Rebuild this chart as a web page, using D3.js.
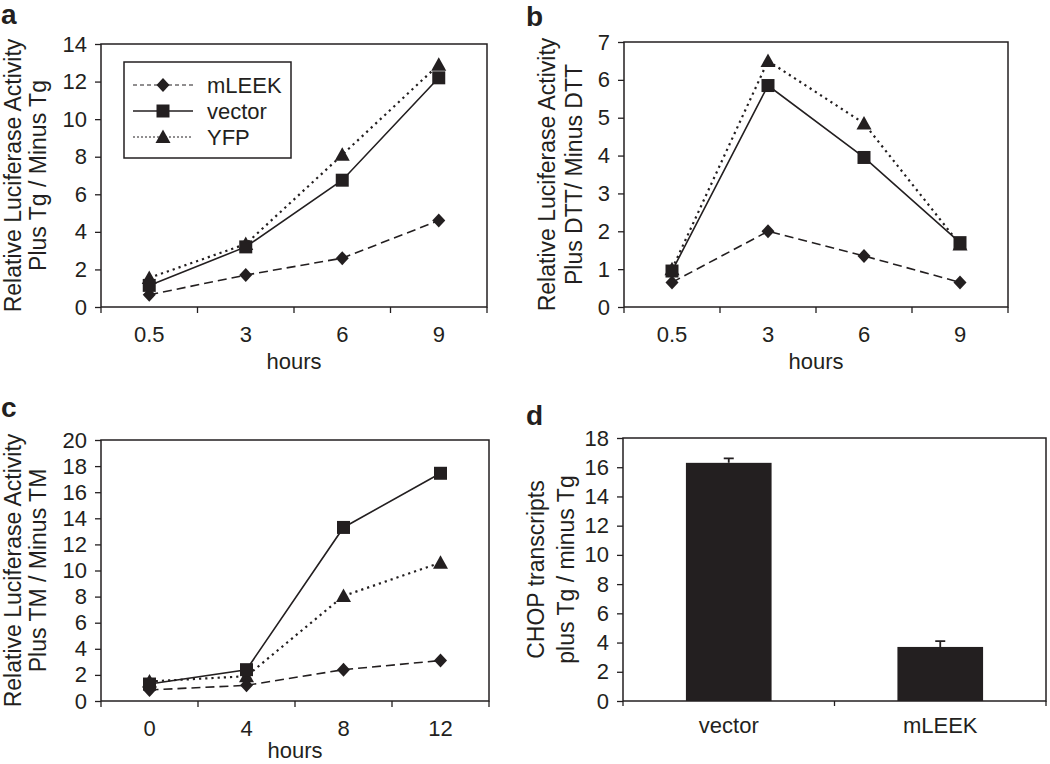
<!DOCTYPE html>
<html>
<head>
<meta charset="utf-8">
<script src="https://cdn.jsdelivr.net/npm/d3@7/dist/d3.min.js"></script>
<style>
  body { margin: 0; background: #fff; }
  svg { display: block; }
  text { font-family: "Liberation Sans", Arial, Helvetica, sans-serif; fill: #231f20; }
</style>
</head>
<body>
<svg id="fig" width="1050" height="764"></svg>
<script>
;(function () {

  'use strict';

  // ---- data ----
  var hoursA = ['0.5', '3', '6', '9'];
  var mleekA = [0.65, 1.7, 2.6, 4.6];
  var vectorA = [1.15, 3.2, 6.75, 12.2];
  var yfpA = [1.55, 3.35, 8.1, 12.9];

  var hoursB = ['0.5', '3', '6', '9'];
  var mleekB = [0.65, 2.0, 1.35, 0.65];
  var vectorB = [0.95, 5.85, 3.95, 1.7];
  var yfpB = [1.0, 6.5, 4.85, 1.65];

  var hoursC = ['0', '4', '8', '12'];
  var mleekC = [0.85, 1.2, 2.4, 3.1];
  var vectorC = [1.3, 2.4, 13.3, 17.45];
  var yfpC = [1.5, 1.9, 8.05, 10.6];

  var groupsD = ['vector', 'mLEEK'];
  var chopD = [16.3, 3.7];
  var chopErrD = [0.3, 0.4];

  var legendKeys = ['mLEEK', 'vector', 'YFP'];

  var INK = '#231f20';
  var TICK_FS = 22;
  var svg = d3.select('#fig');

  // line styles per series
  var style = {
    mLEEK: { dash: '9,5', width: 1.6, shape: 'diamond', legendDash: '4,3' },
    vector: { dash: null, width: 1.6, shape: 'square', legendDash: null },
    YFP: { dash: '2.2,4', width: 2.2, shape: 'triangle', legendDash: '2,2' }
  };

  var marker = function (shape) {
    if (shape === 'square') return 'M-6.5,-6.5H6.5V6.5H-6.5Z';
    if (shape === 'diamond') return 'M0,-7L6.5,0L0,7L-6.5,0Z';
    return 'M0,-7.5L7.5,6L-7.5,6Z';
  };

  var styleAxis = function (g, size) {
    g.select('.domain').remove();
    g.selectAll('line').attr('stroke', INK).attr('stroke-width', 1.3);
    g.selectAll('text').attr('font-size', size).attr('font-family', null).style('fill', INK);
  };

  var letter = function (t, x, y) {
    svg.append('text').attr('x', x).attr('y', y)
      .attr('font-size', 28).attr('font-weight', 'bold').text(t);
  };

  var yTitle = function (lines, xs, cy) {
    lines.forEach(function (l, i) {
      svg.append('text')
        .attr('transform', 'translate(' + xs[i] + ',' + cy + ') rotate(-90)')
        .attr('text-anchor', 'middle')
        .attr('font-size', 23)
        .text(l);
    });
  };

  var linePanel = function (p) {
    var g = svg.append('g');
    var x = d3.scaleBand().domain(p.cats).range([p.x0, p.x1]);
    var y = d3.scaleLinear().domain([0, p.yMax]).range([p.y1, p.y0]);
    var cx = function (i) { return x(p.cats[i]) + x.bandwidth() / 2; };

    g.append('rect')
      .attr('x', p.x0).attr('y', p.y0)
      .attr('width', p.x1 - p.x0).attr('height', p.y1 - p.y0)
      .attr('fill', 'none').attr('stroke', INK).attr('stroke-width', 1.5);

    g.append('g')
      .attr('transform', 'translate(' + p.x0 + ',0)')
      .call(d3.axisLeft(y)
        .tickValues(d3.range(0, p.yMax + 0.001, p.yStep))
        .tickFormat(d3.format('d'))
        .tickSize(6).tickPadding(8))
      .call(styleAxis, TICK_FS);

    g.append('g')
      .attr('transform', 'translate(0,' + p.y1 + ')')
      .call(d3.axisBottom(x).tickSize(0).tickPadding(19))
      .call(styleAxis, TICK_FS);

    // category boundary ticks
    g.selectAll('.bt')
      .data(p.cats.map(function (c) { return x(c); }).concat([x.range()[1]]))
      .enter().append('line')
      .attr('x1', function (d) { return d; }).attr('x2', function (d) { return d; })
      .attr('y1', p.y1).attr('y2', p.y1 + 6)
      .attr('stroke', INK).attr('stroke-width', 1.3);

    g.append('text')
      .attr('x', (p.x0 + p.x1) / 2).attr('y', p.y1 + p.hoursDy)
      .attr('text-anchor', 'middle').attr('font-size', 22)
      .text('hours');

    var line = d3.line()
      .x(function (d, i) { return cx(i); })
      .y(function (d) { return y(d); });

    // draw order: YFP under, vector on top
    var order = [p.series[2], p.series[0], p.series[1]];
    order.forEach(function (s) {
      var st = style[s.key];
      g.append('path')
        .datum(s.values)
        .attr('d', line)
        .attr('fill', 'none')
        .attr('stroke', INK)
        .attr('stroke-width', st.width)
        .attr('stroke-dasharray', st.dash);
    });
    order.forEach(function (s) {
      var st = style[s.key];
      g.selectAll(null)
        .data(s.values)
        .enter().append('path')
        .attr('d', marker(st.shape))
        .attr('transform', function (d, i) { return 'translate(' + cx(i) + ',' + y(d) + ')'; })
        .attr('fill', INK);
    });

    letter(p.letter, p.lx, p.ly);
    yTitle(p.title, p.titleX, (p.y0 + p.y1) / 2);
    return g;
  };

  // ---- panel a ----
  var ga = linePanel({
    letter: 'a', lx: 1, ly: 24,
    x0: 101, x1: 487, y0: 44, y1: 307, hoursDy: 62,
    cats: hoursA, yMax: 14, yStep: 2,
    series: [
      { key: 'mLEEK', values: mleekA },
      { key: 'vector', values: vectorA },
      { key: 'YFP', values: yfpA }
    ],
    title: ['Relative Luciferase Activity', 'Plus Tg / Minus Tg'],
    titleX: [21, 46]
  });

  // legend (panel a)
  var lg = ga.append('g').attr('transform', 'translate(124,62)');
  lg.append('rect').attr('width', 167).attr('height', 96)
    .attr('fill', '#fff').attr('stroke', INK).attr('stroke-width', 1.5);
  var ly = d3.scalePoint().domain(legendKeys).range([23, 75]);
  legendKeys.forEach(function (k) {
    var st = style[k];
    lg.append('line')
      .attr('x1', 9).attr('x2', 69)
      .attr('y1', ly(k)).attr('y2', ly(k))
      .attr('stroke', INK).attr('stroke-width', st.dash ? 1 : 1.5)
      .attr('stroke-dasharray', st.legendDash);
    lg.append('path')
      .attr('d', marker(st.shape))
      .attr('transform', 'translate(39,' + ly(k) + ')')
      .attr('fill', INK);
    lg.append('text')
      .attr('x', 83).attr('y', ly(k)).attr('dy', '0.36em')
      .attr('font-size', 22).text(k);
  });

  // ---- panel b ----
  linePanel({
    letter: 'b', lx: 526, ly: 26,
    x0: 624, x1: 1008, y0: 42, y1: 307, hoursDy: 62,
    cats: hoursB, yMax: 7, yStep: 1,
    series: [
      { key: 'mLEEK', values: mleekB },
      { key: 'vector', values: vectorB },
      { key: 'YFP', values: yfpB }
    ],
    title: ['Relative Luciferase Activity', 'Plus DTT/ Minus DTT'],
    titleX: [555, 582]
  });

  // ---- panel c ----
  linePanel({
    letter: 'c', lx: 1, ly: 417,
    x0: 101, x1: 489, y0: 440, y1: 701, hoursDy: 57,
    cats: hoursC, yMax: 20, yStep: 2,
    series: [
      { key: 'mLEEK', values: mleekC },
      { key: 'vector', values: vectorC },
      { key: 'YFP', values: yfpC }
    ],
    title: ['Relative Luciferase Activity', 'Plus TM / Minus TM'],
    titleX: [21, 46]
  });

  // ---- panel d ----
  (function () {
    var x0 = 623, x1 = 1046, y0 = 438, y1 = 701;
    var g = svg.append('g');
    var x = d3.scaleBand().domain(groupsD).range([x0, x1]);
    var y = d3.scaleLinear().domain([0, 18]).range([y1, y0]);
    var bw = x.bandwidth() * 0.405;

    g.append('rect')
      .attr('x', x0).attr('y', y0)
      .attr('width', x1 - x0).attr('height', y1 - y0)
      .attr('fill', 'none').attr('stroke', INK).attr('stroke-width', 1.5);

    g.append('g')
      .attr('transform', 'translate(' + x0 + ',0)')
      .call(d3.axisLeft(y).tickValues(d3.range(0, 18.001, 2)).tickFormat(d3.format('d')).tickSize(6).tickPadding(8))
      .call(styleAxis, TICK_FS);

    g.append('g')
      .attr('transform', 'translate(0,' + y1 + ')')
      .call(d3.axisBottom(x).tickSize(0).tickPadding(16))
      .call(styleAxis, 22);

    g.selectAll('.bt')
      .data(groupsD.map(function (c) { return x(c); }).concat([x.range()[1]]))
      .enter().append('line')
      .attr('x1', function (d) { return d; }).attr('x2', function (d) { return d; })
      .attr('y1', y1).attr('y2', y1 + 5)
      .attr('stroke', INK).attr('stroke-width', 1.3);

    var cx = function (d, i) { return x(groupsD[i]) + x.bandwidth() / 2; };

    // error bars (upper only)
    g.selectAll('.err')
      .data(chopD)
      .enter().append('path')
      .attr('d', function (d, i) {
        var c = cx(d, i), t = y(d + chopErrD[i]);
        return 'M' + c + ',' + y(d) + 'V' + t + 'M' + (c - 5) + ',' + t + 'H' + (c + 5);
      })
      .attr('fill', 'none').attr('stroke', INK).attr('stroke-width', 1.8);

    g.selectAll('.bar')
      .data(chopD)
      .enter().append('rect')
      .attr('x', function (d, i) { return cx(d, i) - bw / 2; })
      .attr('y', function (d) { return y(d); })
      .attr('width', bw)
      .attr('height', function (d) { return y1 - y(d); })
      .attr('fill', INK);

    letter('d', 526, 425);
    yTitle(['CHOP transcripts', 'plus Tg / minus Tg'], [544, 574], (y0 + y1) / 2);
  })();

})();
</script>
</body>
</html>
